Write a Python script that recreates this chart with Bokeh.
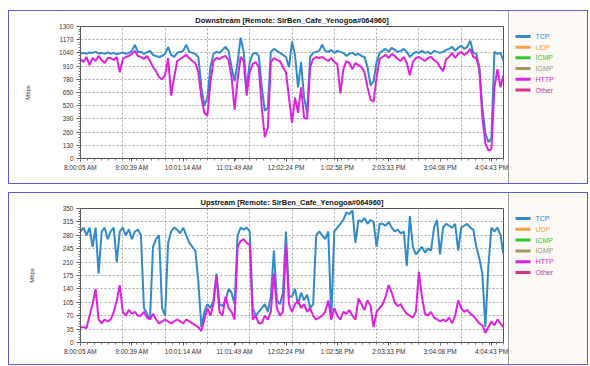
from bokeh.plotting import figure
from bokeh.models import (FixedTicker, SingleIntervalTicker, Range1d, Spacer)
from bokeh.layouts import column, row
from bokeh.core.properties import value
from bokeh.embed import file_html
from bokeh.resources import INLINE

# ---------------- data ----------------
x_labels = ["8:00:05 AM", "9:00:39 AM", "10:01:14 AM", "11:01:49 AM", "12:02:24 PM",
            "1:02:58 PM", "2:03:33 PM", "3:04:08 PM", "4:04:43 PM"]
range_end_label = "4:18:50 PM"

protocols = ["TCP", "UDP", "ICMP", "IGMP", "HTTP", "Other"]
proto_colors = ["#2f8bc9", "#f5a04a", "#33c433", "#a09a62", "#e020e0", "#d42f8c"]

down_title = "Downstream [Remote: SirBen_Cafe_Yenogoa#064960]"
up_title = "Upstream [Remote: SirBen_Cafe_Yenogoa#064960]"
down_yticks = [0, 130, 260, 390, 520, 650, 780, 910, 1040, 1170, 1300]
up_yticks = [0, 35, 70, 105, 140, 175, 210, 245, 280, 315, 350]

down_tcp = [1035, 1040, 1030, 1045, 1040, 1050, 1035, 1040, 1030, 1045,
            1030, 1040, 1025, 1035, 1045, 1030, 1040, 1060, 1120, 1050,
            1050, 1030, 1045, 1060, 1020, 1010, 1000, 1010, 1030, 1100,
            1020, 1000, 1040, 1050, 1060, 1120, 1050, 1040, 1030, 1000,
            700, 520, 600, 900, 1030, 1050, 1040, 1070, 1100, 1060,
            900, 760, 950, 1190, 1050, 680, 950, 1030, 1040, 1010,
            700, 470, 500, 1050, 1080, 1060, 1040, 1020, 1000, 900,
            1150, 1020, 700, 950, 600, 450, 1000, 1040, 1050, 1060,
            1120, 1060, 1050, 1070, 1040, 1060, 1050, 1040, 1010, 1030,
            1040, 1020, 1030, 1010, 1000, 900, 720, 760, 950, 1040,
            1060, 1080, 1050, 1090, 1070, 1050, 1060, 1080, 1050, 1000,
            1030, 1050, 1040, 1060, 1040, 1050, 1030, 1060, 1050, 1040,
            1050, 1070, 1080, 1100, 1060, 1090, 1110, 1080, 1100, 1160,
            1040, 1030, 900, 500, 250, 160, 200, 1050, 1030, 1040, 960]
down_http = [980, 950, 1000, 920, 990, 960, 1010, 970, 940, 990,
             990, 970, 1000, 850, 980, 1000, 1010, 1030, 1060, 1010,
             1000, 980, 1010, 960, 900, 860, 800, 780, 820, 990,
             620, 800, 960, 980, 1000, 1020, 990, 960, 940, 850,
             600, 450, 420, 750, 960, 990, 980, 1000, 1010, 970,
             800, 480, 780, 1000, 960, 620, 850, 930, 950, 900,
             500, 210, 300, 950, 990, 970, 960, 900, 850, 600,
             350, 600, 450, 700, 400, 390, 900, 980, 1000, 990,
             1000, 980, 960, 990, 950, 930, 640, 880, 960, 940,
             880, 940, 920, 900, 850, 700, 580, 560, 800, 980,
             1000, 1020, 990, 1030, 1010, 980, 960, 1000, 940, 820,
             950, 990, 1000, 980, 960, 990, 1000, 970, 950, 900,
             860, 980, 1000, 1040, 990, 1030, 1050, 1020, 1040, 1080,
             1000, 990, 880, 400, 150, 80, 90, 700, 880, 700, 820]
up_tcp = [290, 300, 280, 300, 250, 300, 180, 290, 300, 270,
          290, 300, 210, 290, 300, 280, 295, 270, 290, 295,
          280, 90, 75, 60, 250, 270, 280, 90, 70, 260,
          290, 300, 295, 285, 300, 280, 260, 250, 240, 160,
          40, 80, 100, 90, 110, 180, 100, 95, 110, 140,
          130, 100, 280, 300, 295, 300, 290, 90, 70, 80,
          90, 100, 80, 120, 240, 110, 100, 130, 290, 120,
          120, 140, 100, 130, 110, 125, 90, 100, 280, 290,
          280, 270, 290, 60, 290, 300, 310, 320, 340, 335,
          345, 260, 320, 315, 325, 310, 320, 315, 250, 310,
          310, 305, 315, 300, 290, 295, 285, 290, 200, 330,
          250, 230, 240, 250, 235, 245, 240, 300, 320, 230,
          300, 310, 305, 300, 310, 240, 300, 305, 310, 300,
          295, 250, 220, 180, 40, 200, 300, 290, 300, 280, 230]
up_http = [40, 40, 38, 70, 100, 140, 60, 50, 60, 55,
           60, 80, 110, 150, 80, 70, 85, 75, 80, 70,
           70, 80, 65, 60, 75, 60, 50, 55, 60, 55,
           50, 55, 60, 55, 50, 60, 55, 50, 45, 40,
           30, 60, 90, 70, 100, 175, 80, 70, 120, 90,
           80, 60, 250, 265, 270, 260, 255, 60, 70, 50,
           50, 70, 60, 80, 180, 90, 70, 80, 255, 100,
           80, 100, 110, 90, 100, 80, 90, 70, 60, 65,
           70, 80, 110, 60, 90, 70, 60, 80, 75, 85,
           70, 60, 115, 100, 85, 110, 95, 40, 80, 90,
           100, 120, 150, 130, 105, 95, 100, 85, 75, 70,
           65, 80, 185, 120, 75, 70, 80, 65, 60, 55,
           60, 55, 65, 50, 70, 110, 90, 80, 85, 75,
           70, 60, 50, 45, 25, 40, 55, 45, 60, 50, 40]


def secs(s):
    t, ap = s.split()
    h, m, sc = (int(v) for v in t.split(":"))
    if ap == "PM" and h != 12:
        h += 12
    if ap == "AM" and h == 12:
        h = 0
    return h * 3600 + m * 60 + sc


t0 = secs(x_labels[0])
tick_pos = [secs(l) - t0 for l in x_labels]
x_end = secs(range_end_label) - t0
n = len(down_tcp)
times = [i * x_end / (n - 1) for i in range(n)]

FONT = "Liberation Sans"
TXT = "#333333"


def chart(title, yticks, tcp, http, height, top, frame_h):
    bottom = height - top - frame_h
    p = figure(width=499, height=height, output_backend="svg", toolbar_location=None,
               x_range=Range1d(0, x_end), y_range=Range1d(yticks[0], yticks[-1]),
               min_border_left=71, min_border_right=5, min_border_top=top,
               min_border_bottom=bottom)
    p.title.text = title
    p.title.align = "center"
    p.title.text_font = FONT
    p.title.text_font_size = "7.5px"
    p.title.text_font_style = "bold"
    p.title.text_color = "#111111"
    p.title.standoff = 4
    p.background_fill_color = "white"
    p.border_fill_color = "white"
    p.outline_line_color = "#555555"
    p.outline_line_width = 1

    p.xaxis.ticker = FixedTicker(ticks=tick_pos,
                                 minor_ticks=[k * x_end / 60 for k in range(61)])
    p.xaxis.major_label_overrides = {tp: lab for tp, lab in zip(tick_pos, x_labels)}
    step = yticks[1] - yticks[0]
    p.yaxis.ticker = SingleIntervalTicker(interval=step, num_minor_ticks=5)
    p.yaxis.axis_label = "Mbps"
    p.yaxis.axis_label_text_font_size = "6px"
    p.yaxis.axis_label_text_font_style = "normal"
    p.yaxis.axis_label_text_font = FONT
    p.yaxis.axis_label_text_color = TXT
    p.yaxis.axis_label_standoff = 25
    for ax in (p.xaxis, p.yaxis):
        ax.axis_line_color = "#555555"
        ax.major_tick_line_color = "#555555"
        ax.minor_tick_line_color = "#777777"
        ax.major_tick_in = 0
        ax.minor_tick_in = 0
        ax.major_tick_out = 4
        ax.minor_tick_out = 2
        ax.major_label_text_font = FONT
        ax.major_label_text_font_size = "6.5px"
        ax.major_label_text_color = TXT
        ax.major_label_standoff = 3
    p.xaxis.major_tick_out = 3
    p.xaxis.major_label_standoff = 2

    p.xgrid.ticker = FixedTicker(ticks=[k * x_end / 10 for k in range(11)])
    for g in (p.xgrid, p.ygrid):
        g.grid_line_color = "#a8a8a8"
        g.grid_line_dash = "2 2"
        g.grid_line_width = 1

    p.line(times, tcp, line_color=proto_colors[0], line_width=2)
    p.line(times, http, line_color=proto_colors[4], line_width=2)
    return p


def legend_fig(height, top, frame_h, first_y):
    # frame aligned with the chart frame: y measured in px from frame top
    lf = figure(width=79, height=height, output_backend="svg", toolbar_location=None,
                title=None, x_range=Range1d(0, 79), y_range=Range1d(frame_h, 0),
                x_axis_location=None, y_axis_location=None,
                min_border_left=0, min_border_right=0, min_border_top=top,
                min_border_bottom=height - top - frame_h,
                styles={"border-left": "1px solid #9a9a9a"})
    lf.grid.visible = False
    lf.background_fill_color = "#fcf9f5"
    lf.border_fill_color = "#fcf9f5"
    lf.outline_line_color = None
    ys = [first_y + 10.8 * k for k in range(len(protocols))]
    lf.segment(x0=6, x1=21, y0=ys, y1=ys, line_color=proto_colors, line_width=3)
    lf.text(x=26, y=ys, text=protocols, text_color=proto_colors,
            text_font=value(FONT), text_font_size="7px", text_baseline="middle")
    return lf


p1 = chart(down_title, down_yticks, down_tcp, down_http, 172, 14, 133)
p2 = chart(up_title, up_yticks, up_tcp, up_http, 171, 15, 134)
l1 = legend_fig(172, 14, 133, 10)
l2 = legend_fig(171, 15, 134, 10)

border = {"border": "1px solid #5c5cdc"}
layout = column(row(p1, l1, styles=border), Spacer(height=8),
                row(p2, l2, styles=border), margin=(10, 0, 0, 8))

open("out.html", "w").write(file_html(layout, INLINE))
